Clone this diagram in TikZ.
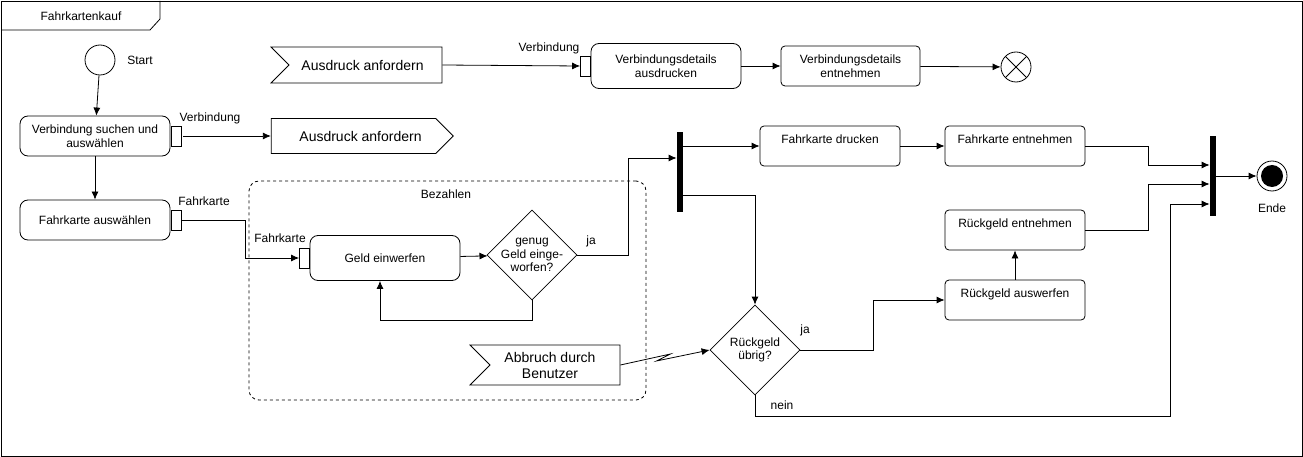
\documentclass[tikz,border=0pt]{standalone}
\usepackage{fontspec}
\setmainfont{Liberation Sans}
\usetikzlibrary{arrows.meta,calc,positioning,shapes.geometric,shapes.symbols}
\tikzset{%
	action/.style   = {draw, rectangle, rounded corners=8pt, minimum width=150pt, minimum height=40pt, align=center},
	task/.style     = {draw, rectangle, rounded corners=4pt, minimum width=140pt, minimum height=40pt, align=center},
	toptext/.style  = {text depth=14pt},
	pin/.style      = {draw, rectangle, fill=white, minimum width=10pt, minimum height=20pt, inner sep=0pt}, % Pin
	sigout/.style   = {draw, signal, signal to=east, signal from=nowhere, signal pointer angle=90, inner sep=0pt, font=\fontsize{14}{16}\selectfont}, % Send signal
	sigin/.style    = {draw, signal, signal to=nowhere, signal from=west, signal pointer angle=90, inner sep=0pt, font=\fontsize{14}{16}\selectfont, align=center}, % Accept signal
	decision/.style = {draw, diamond, minimum size=90pt, inner sep=-6pt, align=center},
	bar/.style      = {fill=black, rectangle, minimum width=6pt, minimum height=80pt, inner sep=0pt},
	startnode/.style= {draw, circle, minimum size=30pt, inner sep=0pt},
	endnode/.style  = {draw, circle, minimum size=30pt, inner sep=0pt, path picture={\fill (path picture bounding box.center) circle (11pt);}},
	flowend/.style  = {draw, circle, minimum size=30pt, inner sep=0pt, path picture={%
		\draw (path picture bounding box.north west) -- (path picture bounding box.south east);
		\draw (path picture bounding box.north east) -- (path picture bounding box.south west);}},
	lbl/.style      = {inner sep=1pt},
	arrow/.style    = {-{Latex[length=8pt,width=7pt]}},
}

\begin{document}
\begin{tikzpicture}[x=1pt,y=-1pt,line width=0.8pt,font=\fontsize{12}{13.5}\selectfont]
	\useasboundingbox (0,0) rectangle (1303,457);
	% frame
	\draw (1,1) rectangle (1302,456);
	\draw (1,30) -- (150,30) -- (160,19) -- (160,1);
	\node [lbl] (titel) at (81,16) {Fahrkartenkauf};
	
	\node [draw, dashed, rounded corners=10pt, minimum width=397pt, minimum height=219pt] (bez) at (447.5,290.5) {};
	\node [lbl] (bezlbl) at (446,194) {Bezahlen};
	
	\node [startnode] (start) at (100,60) {};
	\node [lbl] (startlbl) at (140,60) {Start};
	\node [action] (vsuch) at (95,136) {Verbindung suchen und\\auswählen};
	\node [pin] (vpin) at (176,136) {};
	\node [lbl] (vlbl) at (210,118) {Verbindung};
	\node [sigout, minimum width=182pt, minimum height=35pt] (senden) at (353.5,136) {\hspace{14pt}Ausdruck anfordern};
	
	\node [sigin, minimum width=171pt, minimum height=36pt] (anfordern) at (365.5,65) {\hspace{-6pt}Ausdruck anfordern};
	\node [pin] (vpin2) at (585.5,66) {};
	\node [lbl] (vlbl2) at (549,48) {Verbindung};
	\node [action, minimum width=150pt, minimum height=45pt] (vdruck) at (666,66) {Verbindungsdetails\\ausdrucken};
	\node [task, minimum width=139pt] (ventn) at (850.5,66) {Verbindungsdetails\\entnehmen};
	\node [flowend] (ffinal) at (1016,67) {};
	
	\node [action] (fwahl) at (95,220) {Fahrkarte auswählen};
	\node [pin] (fpin) at (176,220) {};
	\node [lbl] (flbl) at (204,201) {Fahrkarte};
	
	\node [pin] (gpin) at (304.5,258) {};
	\node [lbl] (glbl) at (280,238) {Fahrkarte};
	\node [action, minimum height=45pt] (geld) at (385,258) {Geld einwerfen};
	\node [decision] (genug) at (532,255) {genug\\Geld einge-\\worfen?};
	\node [lbl] (ja1) at (591,241) {ja};
	\node [sigin, minimum width=150pt, minimum height=40pt] (abbruch) at (555,365) {\hspace{-10pt}Abbruch durch\\\hspace{-10pt}Benutzer};
	
	\node [bar] (gabel) at (680,172) {};
	\node [task, toptext] (fdruck) at (830,146) {Fahrkarte drucken};
	\node [task, toptext] (fentn) at (1015,146) {Fahrkarte entnehmen};
	\node [decision] (rest) at (755,350) {Rückgeld\\übrig?};
	\node [lbl] (ja2) at (805,330) {ja};
	\node [lbl] (nein) at (782,405) {nein};
	\node [task, toptext] (raus) at (1015,300) {Rückgeld auswerfen};
	\node [task, toptext] (rentn) at (1015,230) {Rückgeld entnehmen};
	\node [bar] (join) at (1213,176) {};
	\node [endnode] (ende) at (1272,176) {};
	\node [lbl] (endelbl) at (1272,208) {Ende};
	\coordinate (neinpt) at (1170,416);
	
	\draw[arrow] (start) -- (vsuch);
	\draw[arrow] (vsuch) -- (fwahl);
	\draw[arrow] ([xshift=2pt]vpin.east) -- (senden.west);
	\draw[arrow] (anfordern.east) -- (vpin2.west);
	\draw[arrow] (vdruck) -- (ventn);
	\draw[arrow] (ventn) -- (ffinal);
	\draw[arrow] (fpin.east) -- ++(64,0) |- (gpin.west);
	\draw[arrow] (geld) -- (genug);
	\draw[arrow] (genug.south) -- ++(0,20) -| ([xshift=-5pt]geld.south);
	\draw[arrow] (genug.east) -- ++(51,0) |- ([yshift=14pt]gabel.west);
	\draw[arrow] (gabel.east |- fdruck.west) -- (fdruck.west);
	\draw[arrow] ([yshift=-23pt]gabel.east) -| (rest.north);
	\draw[arrow] (fdruck) -- (fentn);
	\draw[arrow] (abbruch.east) -- ++(50,-11) -- ++(-14,7) -- (rest.west);
	\draw[arrow] (rest.east) -- ++(73,0) |- (raus.west);
	\draw[arrow] (raus) -- (rentn);
	\draw[arrow] (rest.south) |- (neinpt) |- ([yshift=-28pt]join.west);
	\draw[arrow] (fentn.east) -- ++(63,0) |- ([yshift=11pt]join.west);
	\draw[arrow] (rentn.east) -- ++(63,0) |- ([yshift=-8pt]join.west);
	\draw[arrow] (join) -- (ende);
\end{tikzpicture}
\end{document}
